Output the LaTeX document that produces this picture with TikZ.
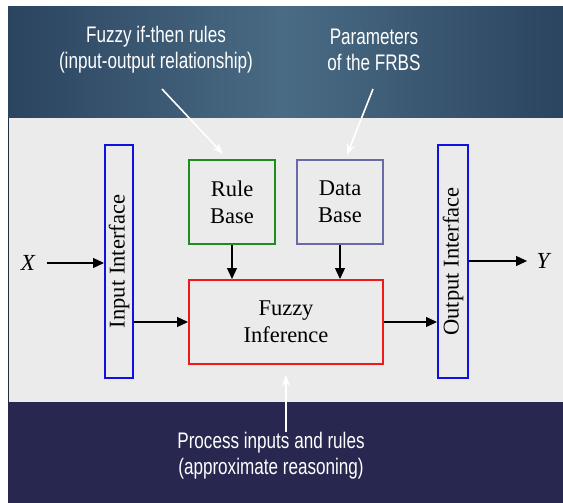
\documentclass[tikz,border=0pt]{standalone}
\usepackage{fontspec}
\setmainfont{Liberation Serif}
\newfontfamily\narrowsans[FakeStretch=0.76]{Liberation Sans}
\usetikzlibrary{arrows.meta,calc}
\definecolor{topL}{HTML}{2B4460}
\definecolor{topM}{HTML}{4A6B84}
\definecolor{botBand}{HTML}{28274F}
\definecolor{panel}{HTML}{EBEBEB}
\definecolor{ifblue}{HTML}{1010E0}
\definecolor{rbgreen}{HTML}{1E8C1E}
\definecolor{dbpurple}{HTML}{6A6AA8}
\definecolor{fired}{HTML}{F01818}
\tikzset{
  blk/.style={draw, line width=2pt, fill=panel, inner sep=0pt, align=center,
    font=\fontsize{22.5}{27}\selectfont},
  lbl/.style={text=white, align=center, font=\narrowsans\fontsize{22.5}{26}\selectfont},
  arr/.style={line width=1.1pt, -{Triangle[length=11pt,width=10pt]}},
  warr/.style={white, line width=1.6pt, -{Stealth[length=11pt,width=8pt]}},
}
\begin{document}
\begin{tikzpicture}[x=1pt,y=-1pt]
\useasboundingbox (0,0) rectangle (563,503);
\fill[white] (0,0) rectangle (563,503);
% bands
\shade[left color=topL, right color=topL, middle color=topM] (8,7) rectangle (563,118);
\fill[botBand] (8,402) rectangle (563,503);
\fill[panel] (8,118) rectangle (563,402);
\draw[topL!70!black, line width=1.2pt] (8.6,118) -- (8.6,402);
% blocks
\node[blk, draw=ifblue, rotate=90, minimum width=233pt, minimum height=28pt] (inif) at (119,261.5) {Input Interface};
\node[blk, draw=ifblue, rotate=90, minimum width=233pt, minimum height=30pt] (outif) at (453,261.5) {Output Interface};
\node[blk, draw=rbgreen, minimum width=86pt, minimum height=84pt] (rule) at (232,202) {Rule\\Base};
\node[blk, draw=dbpurple, minimum width=86pt, minimum height=84pt] (data) at (340,202) {Data\\Base};
\node[blk, draw=fired, minimum width=194pt, minimum height=84pt] (fi) at (286,322) {Fuzzy\\Inference};
\node[font=\fontsize{23}{27}\selectfont\itshape] (X) at (28,263) {X};
\node[font=\fontsize{23}{27}\selectfont\itshape] (Y) at (543,261) {Y};
% connectors
\draw[arr] ([xshift=8pt]X.east) -- (X.east -| inif.north);
\draw[arr] (fi.west -| inif.south) -- (fi.west);
\draw[arr] (fi.east) -- (fi.east -| outif.north);
\draw[arr] (Y.west -| outif.south) -- ([xshift=-6pt]Y.west);
\draw[arr] (rule.south) -- (rule.south |- fi.north);
\draw[arr] (data.south) -- (data.south |- fi.north);
% labels
\node[lbl] (l1) at (156,50) {Fuzzy if-then rules\\(input-output relationship)};
\node[lbl] (l2) at (374,50) {Parameters\\of the FRBS};
\node[lbl] (l3) at (271,456) {Process inputs and rules\\(approximate reasoning)};
\coordinate (a1s) at (162,89);
\coordinate (a1e) at (223,154);
\coordinate (a2s) at (373,89);
\coordinate (a2e) at (347,155);
\coordinate (a3s) at (286,432);
\coordinate (a3e) at (286,375);
\draw[warr] (a1s) -- (a1e);
\draw[warr] (a2s) -- (a2e);
\draw[warr] (a3s) -- (a3e);
\end{tikzpicture}
\end{document}
